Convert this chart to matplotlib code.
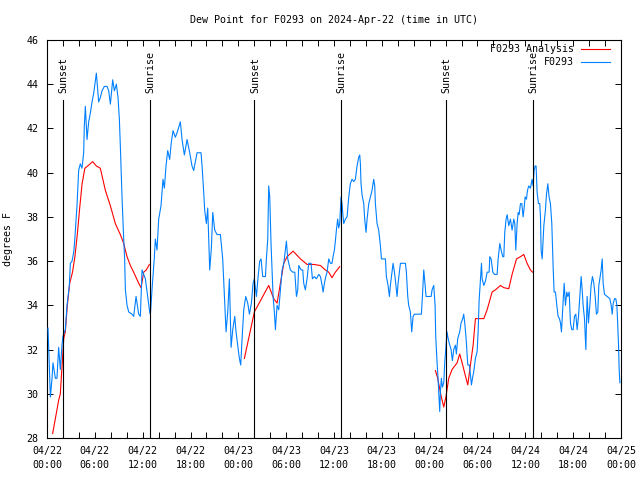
import matplotlib
matplotlib.use("Agg")
import matplotlib.pyplot as plt
import numpy as np

# hours since 2024-04-22 00:00 UTC
obs_hours = [
    0.13, 0.42, 0.63, 0.75, 1.05, 1.25, 1.46, 1.67, 1.88, 2.0, 2.3, 2.51, 2.8, 2.93,
    3.14, 3.35, 3.47, 3.6, 3.76, 3.97, 4.18, 4.39, 4.6, 4.68, 4.81, 5.02, 5.23, 5.44,
    5.65, 5.86, 6.19, 6.48, 6.69, 6.9, 7.19, 7.53, 7.74, 7.95, 8.24, 8.45, 8.7, 8.91,
    9.08, 9.2, 9.41, 9.62, 9.74, 9.83, 10.04, 10.25, 10.67, 10.87, 11.17, 11.5, 11.71,
    11.92, 12.34, 12.63, 12.88, 12.97, 13.17, 13.47, 13.59, 13.8, 14.01, 14.3, 14.55,
    14.72, 14.93, 15.14, 15.39, 15.6, 15.81, 16.1, 16.31, 16.73, 16.94, 17.23, 17.57,
    17.9, 18.19, 18.4, 18.82, 19.32, 19.45, 19.66, 19.78, 19.99, 20.16, 20.41, 20.62,
    20.79, 21.04, 21.33, 21.75, 22.04, 22.25, 22.46, 22.67, 22.88, 23.09, 23.3, 23.55,
    23.71, 23.92, 24.13, 24.3, 24.47, 24.68, 24.93, 25.18, 25.39, 25.64, 25.85, 26.01,
    26.27, 26.48, 26.68, 26.85, 27.06, 27.4, 27.52, 27.69, 27.81, 27.94, 28.1, 28.36,
    28.52, 28.65, 28.86, 29.07, 29.28, 29.49, 29.7, 29.9, 30.03, 30.2, 30.53, 30.82,
    31.08, 31.29, 31.45, 31.58, 31.87, 32.08, 32.2, 32.41, 32.62, 32.83, 33.12, 33.29,
    33.54, 33.79, 34.09, 34.3, 34.51, 34.63, 34.8, 34.97, 35.13, 35.34, 35.55, 35.75,
    35.88, 36.05, 36.17, 36.3, 36.46, 36.59, 36.72, 36.88, 37.01, 37.09, 37.22, 37.43,
    37.64, 37.85, 38.05, 38.26, 38.47, 38.68, 38.89, 39.1, 39.23, 39.31, 39.39, 39.52,
    39.73, 39.85, 40.02, 40.15, 40.36, 40.56, 40.77, 40.98, 41.11, 41.19, 41.4, 41.61,
    41.82, 41.95, 42.24, 42.45, 42.57, 42.78, 42.95, 43.07, 43.28, 43.41, 43.58, 43.74,
    43.91, 44.04, 44.2, 44.33, 44.54, 44.96, 45.08, 45.25, 45.37, 45.58, 45.67, 45.75,
    45.92, 46.09, 46.42, 46.96, 47.09, 47.26, 47.38, 47.55, 47.88, 48.18, 48.3, 48.51,
    48.68, 48.76, 48.93, 49.05, 49.18, 49.26, 49.35, 49.47, 49.6, 49.77, 49.89, 50.02,
    50.18, 50.31, 50.52, 50.69, 50.85, 51.02, 51.23, 51.35, 51.52, 51.77, 51.94, 52.15,
    52.27, 52.4, 52.57, 52.78, 52.99, 53.24, 53.37, 53.53, 53.74, 53.95, 54.08, 54.2,
    54.37, 54.5, 54.58, 54.79, 55.0, 55.21, 55.46, 55.54, 55.71, 55.92, 56.13, 56.46,
    56.59, 56.8, 56.96, 57.17, 57.3, 57.42, 57.59, 57.72, 57.92, 58.13, 58.34, 58.55,
    58.68, 58.8, 58.97, 59.1, 59.22, 59.39, 59.56, 59.72, 59.85, 59.97, 60.14, 60.27,
    60.43, 60.64, 60.85, 60.98, 61.1, 61.23, 61.35, 61.48, 61.65, 61.81, 61.9, 61.98,
    62.11, 62.32, 62.52, 62.65, 62.82, 62.98, 63.15, 63.32, 63.49, 63.61, 63.78, 63.95,
    64.11, 64.28, 64.41, 64.53, 64.62, 64.74, 64.87, 65.03, 65.2, 65.33, 65.5, 65.66,
    65.83, 66.0, 66.16, 66.33, 66.5, 66.67, 66.83, 67.0, 67.13, 67.25, 67.42, 67.59,
    67.75, 67.92, 68.09, 68.25, 68.42, 68.59, 68.76, 68.92, 69.09, 69.22, 69.34, 69.51,
    69.64, 69.76, 69.93, 70.26, 70.6, 70.77, 70.9, 71.02, 71.19, 71.35, 71.48, 71.56,
    71.69, 71.77, 71.86,
]
obs_dewpt = [
    32.97, 29.85, 30.7, 31.4, 30.7, 30.7, 32.1, 31.1, 32.2, 32.6, 32.9, 34.0, 34.9, 35.9,
    36.0, 36.4, 36.9, 37.6, 38.5, 40.1, 40.4, 40.2, 40.9, 42.1, 43.0, 41.5, 42.3, 42.7,
    43.2, 43.6, 44.5, 43.2, 43.4, 43.7, 43.9, 43.9, 43.7, 43.1, 44.2, 43.7, 44.0, 43.4,
    42.4, 41.2, 38.9, 37.0, 36.1, 34.7, 34.0, 33.7, 33.6, 33.5, 34.4, 33.6, 33.5,
    35.6, 35.2, 34.4, 33.7, 33.6, 34.7, 36.2, 37.0, 36.5, 37.9, 38.5, 39.7,
    39.3, 40.3, 41.0, 40.6, 41.4, 41.9, 41.6, 41.8, 42.3, 41.5, 40.8, 41.5,
    40.9, 40.3, 40.1, 40.9, 40.9, 40.3, 39.1, 38.3, 37.7, 38.4, 35.6, 36.6,
    38.2, 37.4, 37.2, 37.2, 36.1, 34.4, 32.8, 33.7, 35.2, 32.1, 32.9, 33.5,
    32.8, 32.2, 31.6, 31.3, 32.5, 33.8, 34.4, 34.1, 33.6, 34.1, 35.0, 35.2,
    34.4, 35.3, 36.0, 36.1, 35.3, 35.3, 36.1, 37.0, 39.4, 38.9, 36.8, 34.4,
    33.7, 32.9, 34.0, 33.8, 34.7, 35.6, 35.9, 36.5, 36.9, 36.1, 35.6, 35.5,
    35.5, 34.4, 34.7, 35.8, 35.6, 35.6, 35.0, 34.7, 35.2, 35.9, 35.9, 35.2,
    35.3, 35.2, 35.4, 35.3, 34.9, 34.6, 35.0, 35.3, 35.5, 36.1, 35.9, 35.9,
    36.2, 36.5, 36.9, 37.4, 37.9, 37.5, 37.7, 38.9, 38.6, 38.2, 37.7, 37.9,
    38.0, 38.9, 39.5, 39.7, 39.6, 39.7, 40.3, 40.7, 40.8, 40.4, 39.5, 39.0,
    38.6, 37.9, 37.3, 37.9, 38.6, 38.9, 39.2, 39.7, 39.4, 38.6, 37.7, 37.4,
    36.7, 36.1, 36.1, 36.1, 35.3, 34.9, 34.4, 34.9, 35.5, 35.9, 35.5, 35.0,
    34.4, 35.0, 35.5, 35.9, 35.9, 35.9, 35.5, 34.4, 34.0, 33.7, 33.2, 32.8,
    33.5, 33.6, 33.6, 33.6, 34.4, 35.6, 35.1, 34.4, 34.4, 34.4, 34.7, 34.9,
    34.0, 32.6, 31.4, 30.7, 29.8, 29.2, 30.1, 30.7, 30.3, 30.5, 31.4, 32.0,
    32.8, 32.5, 32.2, 32.0, 31.5, 32.0, 32.2, 31.8, 32.5, 32.8, 33.2, 33.4,
    33.6, 33.2, 32.5, 31.3, 31.3, 30.4, 30.7, 31.0, 31.6, 31.9, 32.8, 34.2,
    35.2, 35.9, 35.2, 34.9, 35.1, 35.5, 35.5, 36.2, 36.1, 35.5, 35.4, 35.4,
    36.1, 36.8, 36.5, 36.2, 36.2, 37.3, 37.9, 38.1, 37.6, 37.9, 37.4, 37.9,
    37.7, 36.5, 37.7, 38.2, 38.1, 38.6, 38.6, 38.0, 38.4, 38.9, 38.8, 39.2,
    39.4, 39.3, 39.7, 39.4, 40.1, 40.3, 40.3, 39.1, 38.6, 38.6, 38.0, 36.5,
    36.1, 37.6, 38.3, 39.0, 39.5, 38.9, 38.6, 37.7, 35.7, 34.6, 34.6, 34.0,
    33.5, 33.4, 33.2, 32.8, 33.4, 34.2, 35.0, 34.0, 34.6, 34.4, 34.6, 33.2,
    32.9, 32.9, 33.5, 33.6, 32.9, 33.5, 34.4, 35.3, 34.7, 34.0, 33.4, 32.0,
    34.4, 33.2, 34.0, 34.9, 35.3, 35.0, 34.4, 33.6, 33.7, 34.9, 35.2, 35.6,
    36.1, 35.0, 34.5, 34.4, 34.3, 34.0, 33.6, 34.1, 34.3, 34.3, 34.0, 33.4,
    32.2, 31.1, 30.5,
]

# analysis line, NaN marks the gaps between the three daytime runs
ana_hours = [
    0.71, 1.46, 1.67, 1.95, 2.1, 2.3, 2.55, 2.85, 3.2, 3.5, 3.8, 4.1, 4.4, 4.75, 5.1,
    5.73, 6.2, 6.69, 7.32, 7.95, 8.57, 9.2, 9.62, 10.04, 10.46, 10.87, 11.5, 11.8,
    12.13, 12.46, 12.84, 18.0,
    24.76, 26.01, 27.81, 28.44, 28.86, 29.28, 29.7, 30.11, 30.87, 31.79, 32.62, 33.46,
    34.3, 34.92, 35.34, 35.75, 36.17, 36.72, 42.0,
    48.72, 49.01, 49.43, 49.77, 50.06, 50.39, 50.81, 51.44, 51.77, 52.07, 52.49, 52.78,
    53.11, 53.45, 53.74, 54.79, 55.21, 55.83, 56.25, 56.88, 57.3, 57.92, 58.34, 58.89,
    59.39, 59.81, 60.22, 60.64, 60.9,
]
ana_dewpt = [
    28.2, 29.7, 30.0, 31.6, 32.5, 32.8, 34.0, 35.0, 35.5, 36.2, 37.2, 38.4, 39.5, 40.2, 40.3,
    40.5, 40.3, 40.2, 39.2, 38.5, 37.7, 37.2, 36.8, 36.2, 35.8, 35.5, 35.0, 34.8,
    35.5, 35.6, 35.85, np.nan,
    31.6, 33.7, 34.9, 34.3, 34.1, 35.0, 35.9, 36.2, 36.45, 36.1, 35.85, 35.85,
    35.8, 35.6, 35.5, 35.25, 35.5, 35.75, np.nan,
    31.05, 30.7, 29.9, 29.4, 29.9, 30.7, 31.1, 31.4, 31.8, 31.4, 30.8, 30.4,
    31.3, 32.2, 33.4, 33.4, 33.8, 34.6, 34.7, 34.9, 34.8, 34.75, 35.4, 36.1,
    36.2, 36.3, 35.9, 35.6, 35.5,
]

sun_events = ["Sunset", "Sunrise", "Sunset", "Sunrise", "Sunset", "Sunrise"]
sun_hours = [2.0, 12.88, 26.0, 36.88, 50.0, 60.93]

tick_hours = list(range(0, 73, 6))
tick_labels = [
    "04/22\n00:00", "04/22\n06:00", "04/22\n12:00", "04/22\n18:00",
    "04/23\n00:00", "04/23\n06:00", "04/23\n12:00", "04/23\n18:00",
    "04/24\n00:00", "04/24\n06:00", "04/24\n12:00", "04/24\n18:00",
    "04/25\n00:00",
]

plt.rcParams["font.family"] = "DejaVu Sans Mono"
plt.rcParams["font.size"] = 7.2

fig = plt.figure(figsize=(6.4, 4.8), dpi=100)
ax = fig.add_axes([47 / 640, 1 - 438 / 480, 574 / 640, 398 / 480])

red = "#ff0000"
blue = "#0080ff"
ax.plot(ana_hours, ana_dewpt, color=red, linewidth=0.8, zorder=2)
ax.plot(obs_hours, obs_dewpt, color=blue, linewidth=0.8, zorder=3)

for name, h in zip(sun_events, sun_hours):
    ax.plot([h, h], [28, 43.3], color="black", linewidth=0.8, zorder=4)
    ax.text(h + 0.1, 43.6, name, rotation=90, ha="center", va="bottom")

ax.set_xlim(0, 72)
ax.set_ylim(28, 46)
ax.set_xticks(tick_hours)
ax.set_xticklabels(tick_labels, linespacing=1.5)
ax.set_xticks(range(0, 73, 2), minor=True)
ax.set_yticks(range(28, 47, 2))
ax.tick_params(which="both", direction="in", top=True, right=True, length=4,
               width=0.7, pad=6)
for s in ax.spines.values():
    s.set_linewidth(0.8)

ax.set_ylabel("degrees F", labelpad=10)
fig.text(334 / 640, 1 - 20 / 480, "Dew Point for F0293 on 2024-Apr-22 (time in UTC)",
         ha="center", va="center")

# legend: right-justified text, line sample on the right
legend_items = [("F0293 Analysis", red), ("F0293", blue)]
for i, (label, col) in enumerate(legend_items):
    y = 1 - (9.5 + 13 * i) / 398
    ax.text(1 - 47 / 574, y, label, transform=ax.transAxes, ha="right", va="center")
    ax.plot([1 - 40 / 574, 1 - 11 / 574], [y, y], transform=ax.transAxes,
            color=col, linewidth=0.8)

plt.savefig("out.png", dpi=100)
